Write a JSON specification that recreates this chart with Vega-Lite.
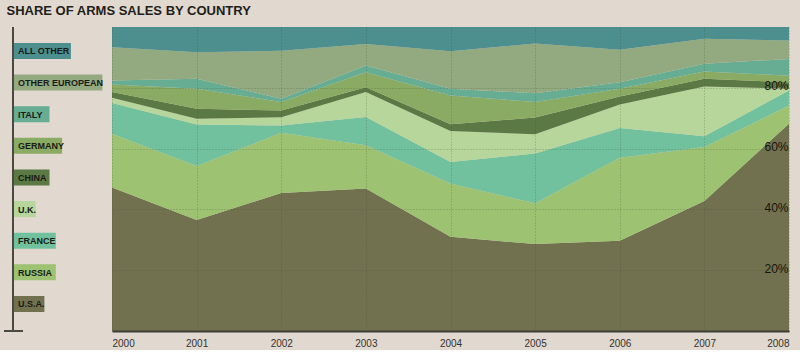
{
  "$schema": "https://vega.github.io/schema/vega-lite/v6.json",
  "background": "#e1d8cf",
  "padding": {"left": 3, "top": 5, "right": 12, "bottom": 2},
  "title": {"text": "SHARE OF ARMS SALES BY COUNTRY", "anchor": "start", "dx": 3, "fontSize": 13, "font": "Liberation Sans, Arial, sans-serif", "fontWeight": "bold", "color": "#1e1e1a", "offset": 8},
  "config": {"view": {"stroke": null}, "concat": {"spacing": 4}},
  "datasets": {
    "legend": [
      {"country": "ALL OTHER"}, {"country": "OTHER EUROPEAN"}, {"country": "ITALY"}, {"country": "GERMANY"}, {"country": "CHINA"}, {"country": "U.K."}, {"country": "FRANCE"}, {"country": "RUSSIA"}, {"country": "U.S.A."}
    ],
    "sales": [
      {"year": 2000, "country": "U.S.A.", "share": 47.2}, {"year": 2000, "country": "RUSSIA", "share": 17.7}, {"year": 2000, "country": "FRANCE", "share": 10.1}, {"year": 2000, "country": "U.K.", "share": 1.7}, {"year": 2000, "country": "CHINA", "share": 1.9}, {"year": 2000, "country": "GERMANY", "share": 2.5}, {"year": 2000, "country": "ITALY", "share": 1.3}, {"year": 2000, "country": "OTHER EUROPEAN", "share": 10.9}, {"year": 2000, "country": "ALL OTHER", "share": 6.7},
      {"year": 2001, "country": "U.S.A.", "share": 36.5}, {"year": 2001, "country": "RUSSIA", "share": 17.8}, {"year": 2001, "country": "FRANCE", "share": 13.6}, {"year": 2001, "country": "U.K.", "share": 1.9}, {"year": 2001, "country": "CHINA", "share": 3.3}, {"year": 2001, "country": "GERMANY", "share": 6.6}, {"year": 2001, "country": "ITALY", "share": 3.3}, {"year": 2001, "country": "OTHER EUROPEAN", "share": 8.7}, {"year": 2001, "country": "ALL OTHER", "share": 8.3},
      {"year": 2002, "country": "U.S.A.", "share": 45.4}, {"year": 2002, "country": "RUSSIA", "share": 19.8}, {"year": 2002, "country": "FRANCE", "share": 2.4}, {"year": 2002, "country": "U.K.", "share": 2.7}, {"year": 2002, "country": "CHINA", "share": 2.2}, {"year": 2002, "country": "GERMANY", "share": 2.8}, {"year": 2002, "country": "ITALY", "share": 1.1}, {"year": 2002, "country": "OTHER EUROPEAN", "share": 15.8}, {"year": 2002, "country": "ALL OTHER", "share": 7.8},
      {"year": 2003, "country": "U.S.A.", "share": 46.9}, {"year": 2003, "country": "RUSSIA", "share": 14.2}, {"year": 2003, "country": "FRANCE", "share": 9.3}, {"year": 2003, "country": "U.K.", "share": 8.2}, {"year": 2003, "country": "CHINA", "share": 1.6}, {"year": 2003, "country": "GERMANY", "share": 4.9}, {"year": 2003, "country": "ITALY", "share": 2.2}, {"year": 2003, "country": "OTHER EUROPEAN", "share": 7.1}, {"year": 2003, "country": "ALL OTHER", "share": 5.6},
      {"year": 2004, "country": "U.S.A.", "share": 31.0}, {"year": 2004, "country": "RUSSIA", "share": 17.5}, {"year": 2004, "country": "FRANCE", "share": 7.1}, {"year": 2004, "country": "U.K.", "share": 10.2}, {"year": 2004, "country": "CHINA", "share": 2.2}, {"year": 2004, "country": "GERMANY", "share": 9.5}, {"year": 2004, "country": "ITALY", "share": 2.2}, {"year": 2004, "country": "OTHER EUROPEAN", "share": 12.3}, {"year": 2004, "country": "ALL OTHER", "share": 8.0},
      {"year": 2005, "country": "U.S.A.", "share": 28.6}, {"year": 2005, "country": "RUSSIA", "share": 13.4}, {"year": 2005, "country": "FRANCE", "share": 16.4}, {"year": 2005, "country": "U.K.", "share": 6.3}, {"year": 2005, "country": "CHINA", "share": 5.5}, {"year": 2005, "country": "GERMANY", "share": 5.1}, {"year": 2005, "country": "ITALY", "share": 2.9}, {"year": 2005, "country": "OTHER EUROPEAN", "share": 16.4}, {"year": 2005, "country": "ALL OTHER", "share": 5.4},
      {"year": 2006, "country": "U.S.A.", "share": 29.7}, {"year": 2006, "country": "RUSSIA", "share": 27.3}, {"year": 2006, "country": "FRANCE", "share": 9.8}, {"year": 2006, "country": "U.K.", "share": 7.7}, {"year": 2006, "country": "CHINA", "share": 2.6}, {"year": 2006, "country": "GERMANY", "share": 2.6}, {"year": 2006, "country": "ITALY", "share": 2.1}, {"year": 2006, "country": "OTHER EUROPEAN", "share": 10.7}, {"year": 2006, "country": "ALL OTHER", "share": 7.5},
      {"year": 2007, "country": "U.S.A.", "share": 42.8}, {"year": 2007, "country": "RUSSIA", "share": 17.7}, {"year": 2007, "country": "FRANCE", "share": 3.6}, {"year": 2007, "country": "U.K.", "share": 16.3}, {"year": 2007, "country": "CHINA", "share": 2.6}, {"year": 2007, "country": "GERMANY", "share": 2.4}, {"year": 2007, "country": "ITALY", "share": 2.5}, {"year": 2007, "country": "OTHER EUROPEAN", "share": 8.2}, {"year": 2007, "country": "ALL OTHER", "share": 3.9},
      {"year": 2008, "country": "U.S.A.", "share": 68.2}, {"year": 2008, "country": "RUSSIA", "share": 6.0}, {"year": 2008, "country": "FRANCE", "share": 4.9}, {"year": 2008, "country": "U.K.", "share": 0.6}, {"year": 2008, "country": "CHINA", "share": 2.1}, {"year": 2008, "country": "GERMANY", "share": 2.2}, {"year": 2008, "country": "ITALY", "share": 5.5}, {"year": 2008, "country": "OTHER EUROPEAN", "share": 6.1}, {"year": 2008, "country": "ALL OTHER", "share": 4.4}
    ]
  },
  "hconcat": [
    {
      "width": 104,
      "height": 304,
      "data": {"name": "legend"},
      "transform": [
        {"calculate": "length(replace(datum.country, regexp('[. ]', 'g'), ''))", "as": "letters"},
        {"calculate": "14 + 6.3 * datum.letters + 2.5 * (length(datum.country) - datum.letters)", "as": "boxEnd"}
      ],
      "layer": [
        {
          "mark": {"type": "bar", "height": 16},
          "encoding": {
            "y": {"field": "country", "type": "nominal", "sort": ["ALL OTHER", "OTHER EUROPEAN", "ITALY", "GERMANY", "CHINA", "U.K.", "FRANCE", "RUSSIA", "U.S.A."], "scale": {"type": "point", "padding": 0.807, "align": 0.47}, "axis": null},
            "x": {"field": "boxEnd", "type": "quantitative", "scale": {"domain": [0, 104], "nice": false, "zero": false}, "axis": null},
            "x2": {"datum": 10},
            "color": {"field": "country", "type": "nominal", "legend": null}
          }
        },
        {
          "mark": {"type": "rule", "color": "#4a4a42", "strokeWidth": 2},
          "encoding": {"x": {"datum": 9, "type": "quantitative"}}
        },
        {
          "mark": {"type": "rule", "color": "#4a4a42", "strokeWidth": 1},
          "encoding": {"x": {"datum": 0, "type": "quantitative"}, "x2": {"datum": 19}, "y": {"value": "height"}}
        },
        {
          "mark": {"type": "text", "align": "left", "baseline": "middle", "dy": 0.5, "font": "Liberation Sans, Arial, sans-serif", "fontWeight": "bold", "fontSize": 9, "color": "#1a1a16"},
          "encoding": {
            "y": {"field": "country", "type": "nominal", "sort": ["ALL OTHER", "OTHER EUROPEAN", "ITALY", "GERMANY", "CHINA", "U.K.", "FRANCE", "RUSSIA", "U.S.A."]},
            "x": {"datum": 14, "type": "quantitative"},
            "text": {"field": "country"}
          }
        }
      ]
    },
    {
      "width": 677,
      "height": 304,
      "data": {"name": "sales"},
      "transform": [
        {"calculate": "indexof(['U.S.A.', 'RUSSIA', 'FRANCE', 'U.K.', 'CHINA', 'GERMANY', 'ITALY', 'OTHER EUROPEAN', 'ALL OTHER'], datum.country)", "as": "stackIdx"}
      ],
      "mark": {"type": "area", "interpolate": "linear"},
      "encoding": {
        "x": {"field": "year", "type": "quantitative", "scale": {"domain": [2000, 2008], "nice": false, "zero": false},
          "axis": {"values": [2000, 2001, 2002, 2003, 2004, 2005, 2006, 2007, 2008], "format": "d", "title": null, "labelFlush": true, "ticks": false, "tickSize": 0, "labelPadding": 7, "labelFont": "Liberation Sans, Arial, sans-serif", "labelFontSize": 10, "labelColor": "#333330", "domainColor": "#3e3e34", "domainWidth": 2, "grid": true, "gridDash": [1, 2], "gridColor": "#3f4f2c", "gridOpacity": 0.4, "zindex": 1}},
        "y": {"field": "share", "type": "quantitative", "stack": "normalize", "scale": {"domain": [0, 1], "nice": false},
          "axis": {"orient": "right", "values": [0.2, 0.4, 0.6, 0.8], "format": ".0%", "title": null, "ticks": false, "tickSize": 0, "domain": false, "labelAlign": "right", "labelPadding": -1, "labelBaseline": "middle", "labelOffset": -2, "labelFont": "Liberation Sans, Arial, sans-serif", "labelFontSize": 12, "labelColor": "#15150f", "grid": true, "gridDash": [1, 2], "gridColor": "#3f4f2c", "gridOpacity": 0.4, "zindex": 1}},
        "order": {"field": "stackIdx", "type": "quantitative"},
        "color": {"field": "country", "type": "nominal", "legend": null,
          "scale": {"domain": ["U.S.A.", "RUSSIA", "FRANCE", "U.K.", "CHINA", "GERMANY", "ITALY", "OTHER EUROPEAN", "ALL OTHER"],
            "range": ["#72714f", "#9dc271", "#72c19e", "#b6d69b", "#5b7944", "#8aab63", "#67ad93", "#93aa80", "#4d8f8f"]}}
      }
    }
  ]
}
